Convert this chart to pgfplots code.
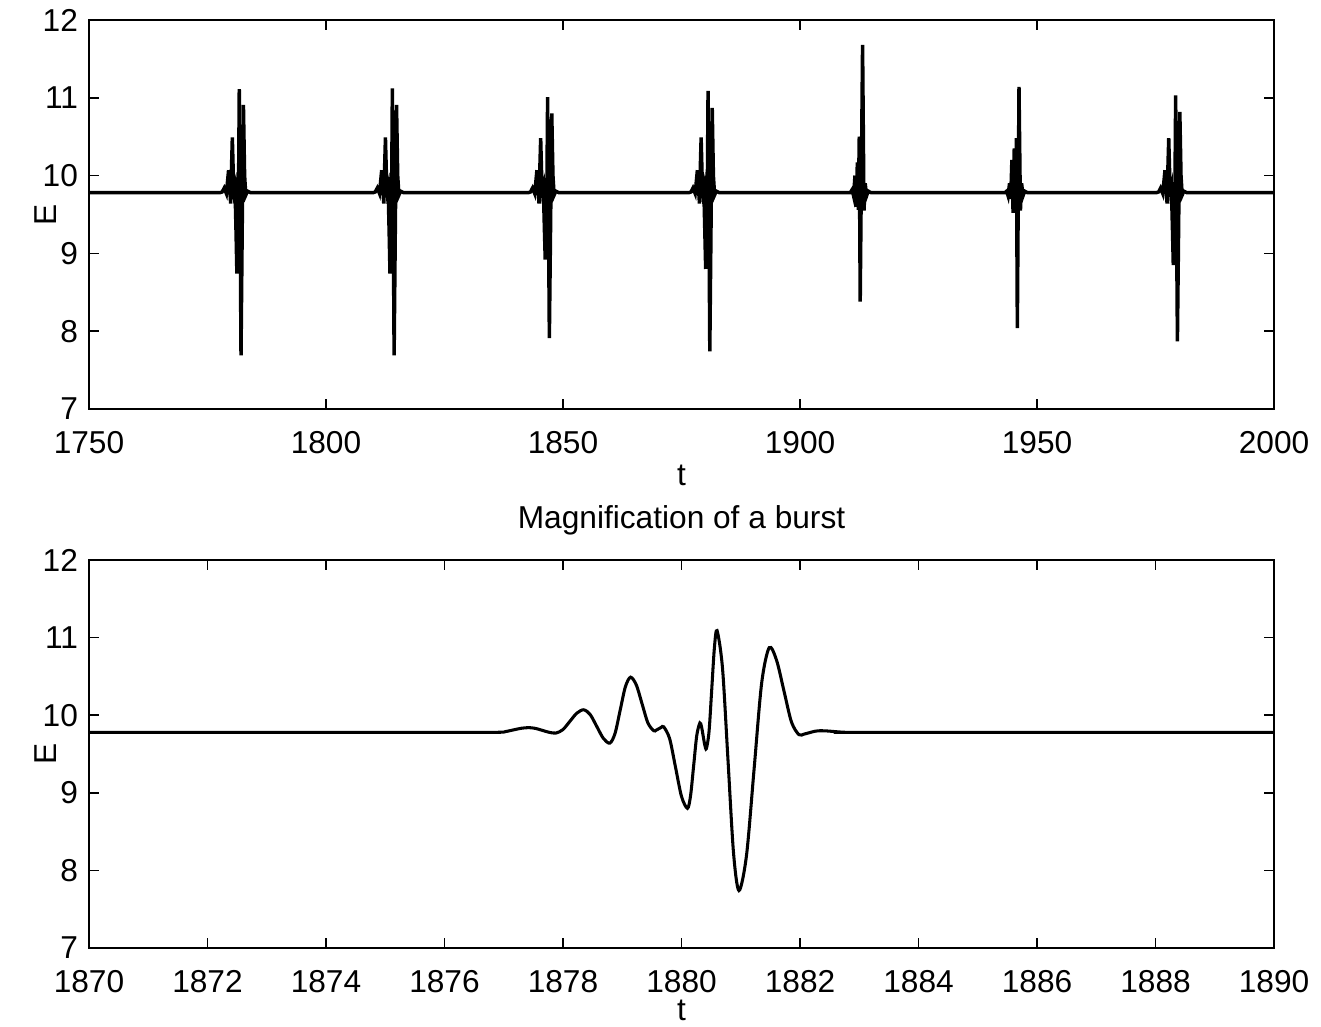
\documentclass[border=0pt]{standalone}
\usepackage{fontspec}
\setmainfont{Liberation Sans}
\usepackage{pgfplots}
\pgfplotsset{compat=1.18}
\begin{document}
\fontsize{11.4pt}{13.7pt}\selectfont
\begin{tikzpicture}
\pgfplotsset{
  myax/.style={
    scale only axis,
    width=426.6pt,
    axis line style={line width=0.7pt},
    tick style={line width=0.6pt, black},
    major tick length=3.6pt,
    tick align=inside,
    ymin=7, ymax=12, ytick={7,8,9,10,11,12},
    /pgf/number format/assume math mode=true,
    /pgf/number format/1000 sep={},
    xticklabel style={yshift=-4.0pt},
    xlabel={t}, ylabel={E},
    ylabel style={at={(axis description cs:-0.0367,0.5)}, anchor=center},
    clip=true,
  }
}
\begin{axis}[myax, at={(0pt,0pt)}, anchor=south west, height=140.04pt,
  xlabel style={at={(axis description cs:0.5,0)}, anchor=center, yshift=-24pt},
  xmin=1750, xmax=2000, xtick={1750,1800,...,2000}]
\addplot[black, line width=1.25pt] coordinates {
(1750,9.78)
(1777.6,9.78)(1778.1,9.79)(1778.52,9.84)(1778.98,9.77)(1779.45,10.07)(1779.89,9.64)(1780.07,10.11)(1780.24,10.49)(1780.47,9.94)(1780.63,9.80)(1780.8,9.85)(1781.03,9.25)(1781.2,8.74)(1781.3,9.4)(1781.41,9.90)(1781.52,9.57)(1781.7,11.11)(1781.88,9.5)(1782.07,7.69)(1782.32,9.3)(1782.58,10.91)(1782.83,10.0)(1783.08,9.75)(1783.44,9.80)(1784.1,9.78)
(1809.9,9.78)(1810.4,9.79)(1810.82,9.84)(1811.28,9.77)(1811.75,10.07)(1812.19,9.64)(1812.37,10.11)(1812.54,10.49)(1812.77,9.94)(1812.93,9.80)(1813.1,9.85)(1813.33,9.25)(1813.5,8.74)(1813.6,9.4)(1813.71,9.90)(1813.82,9.57)(1814.0,11.12)(1814.18,9.5)(1814.37,7.69)(1814.62,9.3)(1814.88,10.91)(1815.13,10.0)(1815.38,9.75)(1815.74,9.80)(1816.4,9.78)
(1842.65,9.78)(1843.15,9.79)(1843.57,9.84)(1844.03,9.77)(1844.5,10.07)(1844.94,9.64)(1845.12,10.11)(1845.29,10.48)(1845.52,9.94)(1845.68,9.80)(1845.85,9.85)(1846.08,9.3)(1846.25,8.92)(1846.35,9.4)(1846.46,9.90)(1846.57,9.57)(1846.75,11.01)(1846.93,9.5)(1847.12,7.91)(1847.37,9.3)(1847.63,10.80)(1847.88,10.0)(1848.13,9.75)(1848.49,9.80)(1849.15,9.78)
(1876.5,9.78)(1877.0,9.79)(1877.42,9.84)(1877.88,9.77)(1878.35,10.07)(1878.79,9.64)(1878.97,10.11)(1879.14,10.49)(1879.37,9.94)(1879.53,9.80)(1879.7,9.85)(1879.93,9.25)(1880.1,8.80)(1880.2,9.4)(1880.31,9.90)(1880.42,9.57)(1880.6,11.09)(1880.78,9.5)(1880.97,7.74)(1881.22,9.3)(1881.48,10.87)(1881.73,10.0)(1881.98,9.75)(1882.34,9.80)(1883.0,9.78)
(1910.6,9.78)(1911.0,9.82)(1911.3,9.74)(1911.6,10.0)(1911.85,9.6)(1912.1,10.17)(1912.3,9.56)(1912.5,10.5)(1912.7,8.38)(1913.2,11.68)(1913.5,9.55)(1913.75,9.9)(1914.05,9.74)(1914.4,9.8)(1915.0,9.78)
(1943.2,9.78)(1943.6,9.80)(1943.9,9.74)(1944.2,9.9)(1944.45,9.7)(1944.7,10.2)(1944.95,9.52)(1945.2,10.35)(1945.45,9.6)(1945.65,10.48)(1945.85,8.04)(1946.2,11.14)(1946.5,9.55)(1946.75,9.9)(1947.05,9.74)(1947.4,9.8)(1948.0,9.78)
(1975.15,9.78)(1975.65,9.79)(1976.07,9.84)(1976.53,9.77)(1977.0,10.07)(1977.44,9.64)(1977.62,10.11)(1977.79,10.48)(1978.02,9.94)(1978.18,9.80)(1978.35,9.85)(1978.58,9.3)(1978.75,8.85)(1978.85,9.4)(1978.96,9.90)(1979.07,9.57)(1979.25,11.03)(1979.43,9.5)(1979.62,7.87)(1979.87,9.3)(1980.13,10.82)(1980.38,10.0)(1980.63,9.75)(1980.99,9.80)(1981.65,9.78)
(2000,9.78)
};
\end{axis}
\begin{axis}[myax, at={(0pt,-194.04pt)}, anchor=south west, height=139.68pt,
  xlabel style={at={(axis description cs:0.5,0)}, anchor=center, yshift=-22.6pt},
  xmin=1870, xmax=1890, xtick={1870,1872,...,1890},
  title={Magnification of a burst},
  title style={at={(axis description cs:0.5,1)}, anchor=south, yshift=-0.9pt}]
\addplot[black, line width=1.1pt, smooth] coordinates {
(1870,9.78)(1873,9.78)(1876.0,9.78)(1876.9,9.78)
(1877.03,9.789)(1877.16,9.81)(1877.29,9.831)(1877.42,9.84)
(1877.535,9.830)(1877.65,9.805)(1877.765,9.780)(1877.88,9.77)
(1877.9975,9.814)(1878.115,9.92)(1878.2325,10.026)(1878.35,10.07)
(1878.46,10.007)(1878.57,9.855)(1878.68,9.703)(1878.79,9.64)
(1878.8775,9.764)(1878.965,10.065)(1879.0525,10.366)(1879.14,10.49)
(1879.2375,10.389)(1879.335,10.145)(1879.4325,9.901)(1879.53,9.80)
(1879.5725,9.807)(1879.615,9.825)(1879.6575,9.843)(1879.70,9.85)
(1879.80,9.697)(1879.90,9.325)(1880.00,8.953)(1880.10,8.80)
(1880.1525,8.961)(1880.205,9.35)(1880.2575,9.739)(1880.31,9.90)
(1880.3375,9.852)(1880.365,9.735)(1880.3925,9.618)(1880.42,9.57)
(1880.465,9.792)(1880.51,10.33)(1880.555,10.868)(1880.60,11.09)
(1880.6925,10.601)(1880.785,9.415)(1880.8775,8.229)(1880.97,7.74)
(1881.0975,8.197)(1881.225,9.305)(1881.3525,10.413)(1881.48,10.87)
(1881.605,10.706)(1881.73,10.31)(1881.855,9.914)(1881.98,9.75)
(1882.07,9.757)(1882.16,9.775)(1882.25,9.793)(1882.34,9.80)
(1882.455,9.797)(1882.57,9.79)(1882.685,9.783)(1882.8,9.78)
(1886,9.78)(1890,9.78)
};
\end{axis}
\pgfresetboundingbox
\useasboundingbox (-32.04pt,-222.12pt) rectangle (443.52pt,147.24pt);
\end{tikzpicture}
\end{document}
